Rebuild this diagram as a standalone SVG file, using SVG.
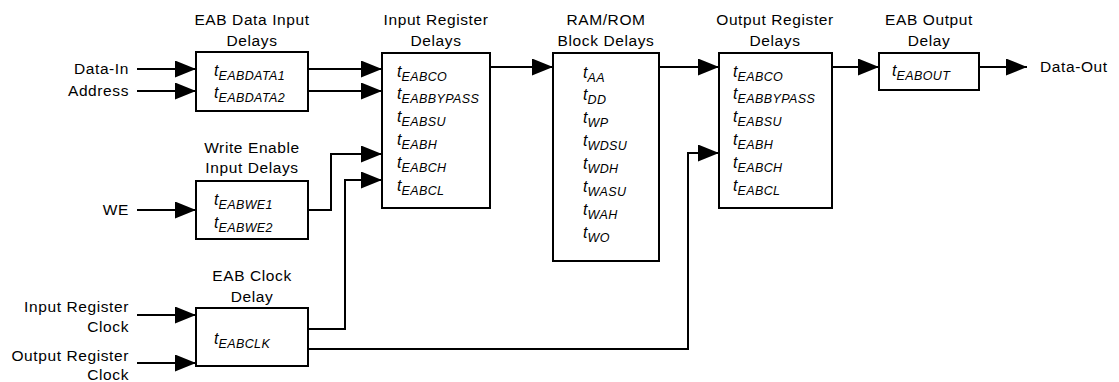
<svg xmlns="http://www.w3.org/2000/svg" width="1119" height="382" viewBox="0 0 1119 382">
<style>
.box{fill:#fff;stroke:#000;stroke-width:2}
.lbl{font-family:"Liberation Sans",Arial,sans-serif;font-size:15.5px;letter-spacing:0.6px;fill:#000}
.ttl{font-family:"Liberation Sans",Arial,sans-serif;font-size:15.5px;letter-spacing:0.6px;fill:#000;text-anchor:middle}
.t{font-family:"Liberation Sans",Arial,sans-serif;font-size:16px;font-style:italic;fill:#000}
.sub{font-size:12.5px;letter-spacing:0.4px}
.c{fill:none;stroke:#000;stroke-width:2;marker-end:url(#ah)}
</style>
<defs>
<marker id="ah" markerUnits="userSpaceOnUse" markerWidth="22" markerHeight="18" refX="21" refY="8.5" orient="auto">
<path d="M0,0 L21,8.5 L0,17 z" fill="#000"/>
</marker>
</defs>
<rect width="1119" height="382" fill="#fff"/>
<g id="connectors">
<path class="c" d="M137,69 H196"/>
<path class="c" d="M137,91 H196"/>
<path class="c" d="M308,69 H382"/>
<path class="c" d="M308,91 H382"/>
<path class="c" d="M137,210 H196"/>
<path class="c" d="M308,210 H331 V154 H382"/>
<path class="c" d="M137,315 H196"/>
<path class="c" d="M137,363 H196"/>
<path class="c" d="M308,329 H345 V180 H382"/>
<path class="c" d="M308,349 H688 V153 H719"/>
<path class="c" d="M490,67 H553"/>
<path class="c" d="M659,67 H719"/>
<path class="c" d="M832,67 H879"/>
<path class="c" d="M979,67 H1027"/>
</g>
<g id="inputs">
<text class="lbl" x="129" y="74" text-anchor="end">Data-In</text>
<text class="lbl" x="129" y="96" text-anchor="end">Address</text>
<text class="lbl" x="129" y="215" text-anchor="end">WE</text>
<text class="lbl" x="129" y="312" text-anchor="end">Input Register</text>
<text class="lbl" x="129" y="332" text-anchor="end">Clock</text>
<text class="lbl" x="129" y="361" text-anchor="end">Output Register</text>
<text class="lbl" x="129" y="380" text-anchor="end">Clock</text>
<text class="lbl" x="1040" y="72">Data-Out</text>
</g>
<g id="eab-data-input">
<text class="ttl" x="252" y="25">EAB Data Input</text>
<text class="ttl" x="252" y="46">Delays</text>
<rect class="box" x="196" y="52" width="112" height="59"/>
<text class="t" x="214" y="76">t<tspan class="sub" dy="4">EABDATA1</tspan></text>
<text class="t" x="214" y="98">t<tspan class="sub" dy="4">EABDATA2</tspan></text>
</g>
<g id="write-enable">
<text class="ttl" x="252" y="153">Write Enable</text>
<text class="ttl" x="252" y="173">Input Delays</text>
<rect class="box" x="196" y="181" width="112" height="58"/>
<text class="t" x="214" y="205">t<tspan class="sub" dy="4">EABWE1</tspan></text>
<text class="t" x="214" y="228">t<tspan class="sub" dy="4">EABWE2</tspan></text>
</g>
<g id="eab-clock">
<text class="ttl" x="252" y="281">EAB Clock</text>
<text class="ttl" x="252" y="302">Delay</text>
<rect class="box" x="196" y="308" width="112" height="58"/>
<text class="t" x="214" y="344">t<tspan class="sub" dy="4">EABCLK</tspan></text>
</g>
<g id="input-register">
<text class="ttl" x="436" y="25">Input Register</text>
<text class="ttl" x="436" y="46">Delays</text>
<rect class="box" x="382" y="53" width="108" height="155"/>
<text class="t" x="397" y="77">t<tspan class="sub" dy="4">EABCO</tspan></text>
<text class="t" x="397" y="99">t<tspan class="sub" dy="4">EABBYPASS</tspan></text>
<text class="t" x="397" y="122">t<tspan class="sub" dy="4">EABSU</tspan></text>
<text class="t" x="397" y="145">t<tspan class="sub" dy="4">EABH</tspan></text>
<text class="t" x="397" y="168">t<tspan class="sub" dy="4">EABCH</tspan></text>
<text class="t" x="397" y="191">t<tspan class="sub" dy="4">EABCL</tspan></text>
</g>
<g id="ram-rom">
<text class="ttl" x="606" y="25">RAM/ROM</text>
<text class="ttl" x="606" y="46">Block Delays</text>
<rect class="box" x="553" y="53" width="106" height="208"/>
<text class="t" x="583" y="78">t<tspan class="sub" dy="4">AA</tspan></text>
<text class="t" x="583" y="100">t<tspan class="sub" dy="4">DD</tspan></text>
<text class="t" x="583" y="123">t<tspan class="sub" dy="4">WP</tspan></text>
<text class="t" x="583" y="146">t<tspan class="sub" dy="4">WDSU</tspan></text>
<text class="t" x="583" y="169">t<tspan class="sub" dy="4">WDH</tspan></text>
<text class="t" x="583" y="192">t<tspan class="sub" dy="4">WASU</tspan></text>
<text class="t" x="583" y="215">t<tspan class="sub" dy="4">WAH</tspan></text>
<text class="t" x="583" y="238">t<tspan class="sub" dy="4">WO</tspan></text>
</g>
<g id="output-register">
<text class="ttl" x="775" y="25">Output Register</text>
<text class="ttl" x="775" y="46">Delays</text>
<rect class="box" x="719" y="53" width="113" height="155"/>
<text class="t" x="733" y="77">t<tspan class="sub" dy="4">EABCO</tspan></text>
<text class="t" x="733" y="99">t<tspan class="sub" dy="4">EABBYPASS</tspan></text>
<text class="t" x="733" y="122">t<tspan class="sub" dy="4">EABSU</tspan></text>
<text class="t" x="733" y="145">t<tspan class="sub" dy="4">EABH</tspan></text>
<text class="t" x="733" y="168">t<tspan class="sub" dy="4">EABCH</tspan></text>
<text class="t" x="733" y="191">t<tspan class="sub" dy="4">EABCL</tspan></text>
</g>
<g id="eab-output">
<text class="ttl" x="929" y="25">EAB Output</text>
<text class="ttl" x="929" y="46">Delay</text>
<rect class="box" x="879" y="53" width="100" height="37"/>
<text class="t" x="892" y="76">t<tspan class="sub" dy="4">EABOUT</tspan></text>
</g>
</svg>
